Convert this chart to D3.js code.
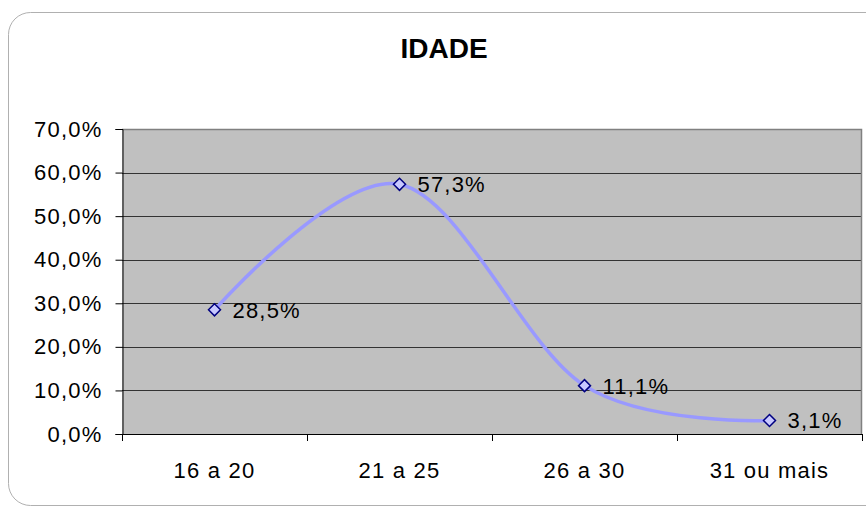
<!DOCTYPE html>
<html>
<head>
<meta charset="utf-8">
<script src="https://cdn.jsdelivr.net/npm/d3@7"></script>
<style>
  body { margin: 0; background: #fff; }
  svg { display: block; font-family: "Liberation Sans", Arial, sans-serif; }
</style>
</head>
<body>
<svg id="chart" width="866" height="507"></svg>
<script>
const categorias = ["16 a 20", "21 a 25", "26 a 30", "31 ou mais"];
const valores = [28.5, 57.3, 11.1, 3.1];
const rotulos = ["28,5%", "57,3%", "11,1%", "3,1%"];
const ticksY = [0, 10, 20, 30, 40, 50, 60, 70];

const svg = d3.select("#chart");
const fonte = "Liberation Sans, Arial, sans-serif";

// moldura arredondada
svg.append("rect")
    .attr("x", 8.5).attr("y", 12.5)
    .attr("width", 880).attr("height", 493)
    .attr("rx", 22).attr("ry", 22)
    .attr("fill", "#fff")
    .attr("stroke", "#b0b0b0");

const areaEsq = 122, areaDir = 862, areaTopo = 129, areaBase = 434;

const x = d3.scaleBand().domain(categorias).range([areaEsq, areaDir]);
const y = d3.scaleLinear().domain([0, 70]).range([areaBase, areaTopo]);

// area do grafico
svg.append("rect")
    .attr("x", areaEsq).attr("y", areaTopo)
    .attr("width", areaDir - areaEsq).attr("height", areaBase - areaTopo)
    .attr("fill", "#c0c0c0");

// linhas de grade
svg.selectAll(".grid")
    .data(ticksY.filter(d => d > 0 && d < 70))
    .enter().append("line")
    .attr("x1", areaEsq).attr("x2", areaDir)
    .attr("y1", d => Math.round(y(d)) + 0.5).attr("y2", d => Math.round(y(d)) + 0.5)
    .attr("stroke", "#333");

// borda superior e direita
svg.append("path")
    .attr("d", `M${areaEsq},${areaTopo + 0.5}H${areaDir - 0.5}V${areaBase}`)
    .attr("fill", "none")
    .attr("stroke", "#808080")
    .attr("stroke-width", 1.5);

// eixo Y
const eixoY = svg.append("g")
    .attr("transform", `translate(${areaEsq + 0.5},0)`)
    .call(d3.axisLeft(y).tickValues(ticksY).tickSize(7).tickPadding(13)
        .tickFormat(d => d.toFixed(1).replace(".", ",") + "%"));
eixoY.select(".domain").attr("stroke", "#000");
eixoY.selectAll(".tick line").attr("stroke", "#000");
eixoY.selectAll("text").attr("font-size", 22).attr("fill", "#000")
    .attr("letter-spacing", 1.2).attr("font-family", fonte);

// eixo X
const eixoX = svg.append("g")
    .attr("transform", `translate(0,${areaBase + 0.5})`)
    .call(d3.axisBottom(x).tickSize(0).tickPadding(28));
eixoX.select(".domain").attr("stroke", "#000").attr("d", `M${areaEsq},0H${areaDir}`);
eixoX.selectAll("text").attr("font-size", 22).attr("fill", "#000")
    .attr("letter-spacing", 1.2).attr("font-family", fonte);

// marcas entre categorias
const limites = categorias.map(c => x(c)).concat([areaDir]);
svg.selectAll(".xtick")
    .data(limites)
    .enter().append("line")
    .attr("x1", d => Math.round(d) + 0.5).attr("x2", d => Math.round(d) + 0.5)
    .attr("y1", areaBase).attr("y2", areaBase + 7)
    .attr("stroke", "#000");

// linha suavizada
const pontos = categorias.map((c, i) => [x(c) + x.bandwidth() / 2, y(valores[i])]);
const linha = d3.line().curve(d3.curveCatmullRom.alpha(0));
svg.append("path")
    .attr("d", linha(pontos))
    .attr("fill", "none")
    .attr("stroke", "#9999ff")
    .attr("stroke-width", 3.5)
    .attr("stroke-linejoin", "round");

// marcadores
svg.selectAll(".marker")
    .data(pontos)
    .enter().append("path")
    .attr("transform", d => `translate(${d[0]},${d[1]})`)
    .attr("d", "M0,-6L6,0L0,6L-6,0Z")
    .attr("fill", "#c8c8ff")
    .attr("stroke", "#000080")
    .attr("stroke-width", 1.5);

// rotulos de dados
svg.selectAll(".rotulo")
    .data(pontos)
    .enter().append("text")
    .attr("x", d => d[0] + 18)
    .attr("y", d => d[1] + 8)
    .attr("font-size", 22)
    .attr("letter-spacing", 1.2)
    .attr("fill", "#000")
    .text((d, i) => rotulos[i]);

// titulo
svg.append("text")
    .attr("x", 444).attr("y", 58)
    .attr("text-anchor", "middle")
    .attr("font-size", 28)
    .attr("font-weight", "bold")
    .text("IDADE");
</script>
</body>
</html>
